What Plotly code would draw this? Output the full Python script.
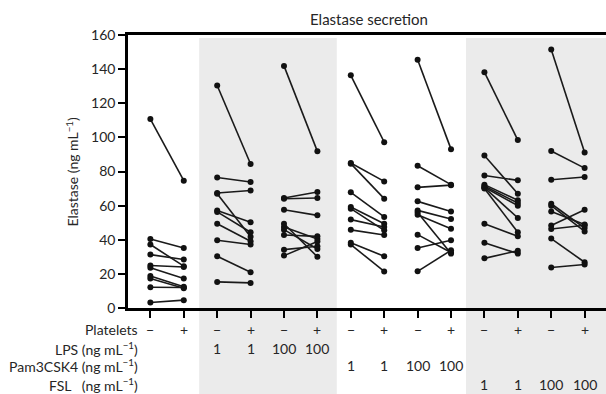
import plotly.graph_objects as go

# Positions 0..13 (pairs: − / + platelets)
platelets = ["−", "+"] * 7
lps = ["", "", "1", "1", "100", "100", "", "", "", "", "", "", "", ""]
pam = ["", "", "", "", "", "", "1", "1", "100", "100", "", "", "", ""]
fsl = ["", "", "", "", "", "", "", "", "", "", "1", "1", "100", "100"]

# Each group: values without platelets (left) and with platelets (right), paired by donor
ctrl_minus = [110.7, 40.5, 37.2, 31.3, 24.9, 23.6, 18.8, 17.3, 12.2, 3.2]
ctrl_plus = [74.6, 35.2, 24.5, 28.4, 24.0, 17.3, 12.4, 11.6, 12.0, 4.6]

lps1_minus = [130.4, 76.5, 67.4, 67.0, 57.1, 56.3, 49.4, 39.7, 30.3, 15.3]
lps1_plus = [84.4, 73.8, 68.9, 41.7, 50.2, 44.4, 39.1, 37.2, 21.0, 14.7]

lps100_minus = [141.9, 64.5, 64.0, 57.6, 49.4, 47.5, 45.9, 42.8, 34.2, 30.7]
lps100_plus = [91.8, 68.0, 64.5, 54.3, 30.0, 40.5, 34.6, 42.0, 36.2, 39.0]

pam1_minus = [136.4, 85.0, 84.6, 67.8, 59.2, 58.2, 51.8, 45.8, 38.2, 37.2]
pam1_plus = [97.2, 74.2, 64.1, 53.4, 49.4, 45.5, 47.5, 42.8, 30.3, 21.4]

pam100_minus = [145.5, 83.4, 70.7, 62.5, 57.2, 56.0, 54.7, 43.0, 35.2, 21.5]
pam100_plus = [93.1, 72.3, 72.0, 56.6, 52.2, 31.9, 46.5, 32.5, 39.7, 33.8]

fsl1_minus = [138.2, 89.4, 77.7, 72.3, 71.5, 70.8, 70.5, 70.0, 49.4, 38.2, 29.1]
fsl1_plus = [98.4, 67.0, 74.8, 63.1, 61.5, 60.0, 52.8, 44.4, 42.0, 31.9, 33.6]

fsl100_minus = [151.5, 92.0, 75.2, 61.1, 60.0, 56.6, 48.3, 46.3, 40.7, 23.7]
fsl100_plus = [91.2, 82.0, 76.8, 46.9, 44.9, 49.0, 57.6, 48.5, 26.8, 25.5]

groups = [
    (ctrl_minus, ctrl_plus),
    (lps1_minus, lps1_plus),
    (lps100_minus, lps100_plus),
    (pam1_minus, pam1_plus),
    (pam100_minus, pam100_plus),
    (fsl1_minus, fsl1_plus),
    (fsl100_minus, fsl100_plus),
]

FONT = "Lato"
TXT = "#262626"

fig = go.Figure()

for gi, (lm, rp) in enumerate(groups):
    xs, ys = [], []
    for a, b in zip(lm, rp):
        xs += [2 * gi, 2 * gi + 1, None]
        ys += [a, b, None]
    fig.add_trace(go.Scatter(
        x=xs, y=ys, mode="lines+markers",
        line=dict(color="#1a1a1a", width=1.6),
        marker=dict(color="#111111", size=6),
        showlegend=False, hoverinfo="skip", cliponaxis=False,
    ))

# shaded bands
shapes = []
for x0, x1 in [(1.46, 5.58), (9.45, 14.5)]:
    shapes.append(dict(type="rect", xref="x", yref="paper", x0=x0, x1=x1,
                       y0=-0.35, y1=0.989, fillcolor="#ebebeb",
                       line=dict(width=0), layer="below"))

annotations = []
row_y = {"Platelets": -0.079, "LPS": -0.149, "Pam": -0.212, "FSL": -0.279}
sup = "(ng\u00a0mL<sup>−1</sup>)"
row_labels = [
    ("Platelets", row_y["Platelets"]),
    ("LPS " + sup, row_y["LPS"]),
    ("Pam3CSK4 " + sup, row_y["Pam"]),
    ("FSL\u00a0\u00a0\u00a0" + sup, row_y["FSL"]),
]
for t, yy in row_labels:
    annotations.append(dict(text=t, xref="paper", yref="paper", x=0.025, y=yy,
                            xanchor="right", yanchor="middle", showarrow=False,
                            font=dict(family=FONT, size=14, color=TXT)))
for i in range(14):
    for vals, key in [(platelets, "Platelets"), (lps, "LPS"), (pam, "Pam"), (fsl, "FSL")]:
        if vals[i]:
            annotations.append(dict(text=vals[i], xref="x", yref="paper", x=i, y=row_y[key],
                                    xanchor="center", yanchor="middle", showarrow=False,
                                    font=dict(family=FONT, size=14, color=TXT)))

annotations.append(dict(text="Elastase secretion", xref="paper", yref="paper",
                        x=0.504, y=1.0585, xanchor="center", yanchor="middle",
                        showarrow=False, font=dict(family=FONT, size=15, color=TXT)))
annotations.append(dict(text="Elastase (ng mL<sup>−1</sup>)", xref="paper", yref="paper",
                        x=-0.117, y=0.5, xanchor="center", yanchor="middle", textangle=-90,
                        showarrow=False, font=dict(family=FONT, size=14, color=TXT)))

fig.update_layout(
    width=606, height=394,
    margin=dict(l=128, r=0, t=35, b=86),
    paper_bgcolor="white", plot_bgcolor="white",
    shapes=shapes, annotations=annotations,
    xaxis=dict(range=[-0.67, 13.64], showgrid=False, zeroline=False,
               showline=True, linecolor="black", linewidth=2.5, mirror=True,
               tickmode="array", tickvals=list(range(14)), showticklabels=False,
               ticks="outside", ticklen=7, tickwidth=2, tickcolor="black"),
    yaxis=dict(range=[0, 160], showgrid=False, zeroline=False,
               showline=True, linecolor="black", linewidth=2.5,
               tickmode="array", tickvals=list(range(0, 161, 20)),
               ticks="outside", ticklen=7, tickwidth=2, tickcolor="black",
               tickfont=dict(family=FONT, size=14, color=TXT)),
)

fig.write_html("out.html", config={"displayModeBar": False},
               post_script="document.body.style.margin='0';document.body.style.overflow='hidden';")
